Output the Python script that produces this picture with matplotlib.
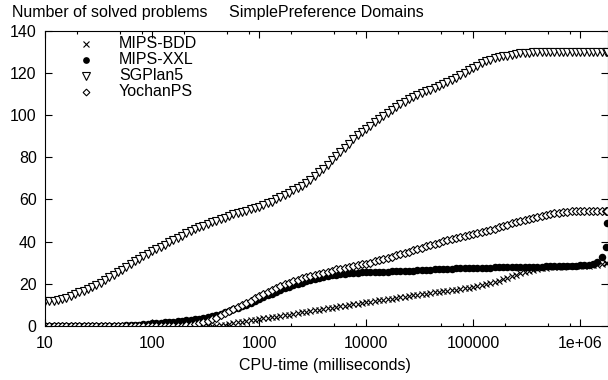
import numpy as np
import matplotlib
matplotlib.use('Agg')
import matplotlib.pyplot as plt
from matplotlib.ticker import FixedLocator, NullFormatter

plt.rcParams['font.family'] = ['Liberation Sans', 'DejaVu Sans']

# CPU time samples, log10(milliseconds); last sample is the 30 min limit
log_time = [
    1.00, 1.04, 1.08, 1.12, 1.16, 1.20, 1.24, 1.28, 1.32, 1.36, 1.40, 1.44, 1.48,
    1.52, 1.56, 1.60, 1.64, 1.68, 1.72, 1.76, 1.80, 1.84, 1.88, 1.92, 1.96,
    2.00, 2.04, 2.08, 2.12, 2.16, 2.20, 2.24, 2.28, 2.32, 2.36, 2.40, 2.44, 2.48,
    2.52, 2.56, 2.60, 2.64, 2.68, 2.72, 2.76, 2.80, 2.84, 2.88, 2.92, 2.96,
    3.00, 3.04, 3.08, 3.12, 3.16, 3.20, 3.24, 3.28, 3.32, 3.36, 3.40, 3.44, 3.48,
    3.52, 3.56, 3.60, 3.64, 3.68, 3.72, 3.76, 3.80, 3.84, 3.88, 3.92, 3.96,
    4.00, 4.04, 4.08, 4.12, 4.16, 4.20, 4.24, 4.28, 4.32, 4.36, 4.40, 4.44, 4.48,
    4.52, 4.56, 4.60, 4.64, 4.68, 4.72, 4.76, 4.80, 4.84, 4.88, 4.92, 4.96,
    5.00, 5.04, 5.08, 5.12, 5.16, 5.20, 5.24, 5.28, 5.32, 5.36, 5.40, 5.44, 5.48,
    5.52, 5.56, 5.60, 5.64, 5.68, 5.72, 5.76, 5.80, 5.84, 5.88, 5.92, 5.96,
    6.00, 6.04, 6.08, 6.12, 6.16, 6.20, 6.24, 6.255,
]

# number of solved problems at each sample
mips_bdd = [
    0, 0, 0, 0, 0, 0, 0, 0, 0, 0, 0, 0, 0, 0, 0, 0, 0, 0, 0, 0, 0, 0, 0, 0, 0,
    0, 0, 0, 0, 0, 0, 0, 0, 0, 0, 0, 0, 0, 0, 0,
    0.2, 0.4, 0.7, 1.0, 1.4, 1.8, 2.1, 2.4, 2.7, 3.0,
    3.3, 3.6, 3.9, 4.2, 4.5, 4.8, 5.1, 5.4, 5.8, 6.1, 6.5, 6.8, 7.1,
    7.5, 7.8, 8.1, 8.4, 8.7, 9.0, 9.4, 9.7, 10.0, 10.3, 10.6, 10.9,
    11.2, 11.5, 11.8, 12.1, 12.4, 12.7, 13.0, 13.3, 13.6, 13.9, 14.2, 14.5, 14.8,
    15.1, 15.4, 15.7, 16.0, 16.2, 16.5, 16.8, 17.0, 17.3, 17.6, 17.9, 18.2,
    18.5, 18.9, 19.3, 19.7, 20.2, 20.8, 21.5, 22.2, 22.9, 23.6, 24.3, 24.9, 25.5,
    26.0, 26.5, 27.0, 27.3, 27.6, 27.8, 28.0, 28.1, 28.2, 28.3, 28.3, 28.4,
    28.4, 28.5, 28.6, 28.8, 29.0, 29.3, 29.7, 30.0,
]

mips_xxl = [
    0, 0, 0, 0, 0, 0, 0, 0, 0, 0, 0, 0, 0, 0, 0, 0, 0,
    0.1, 0.2, 0.3, 0.4, 0.5, 0.6, 0.8, 1.0,
    1.2, 1.4, 1.5, 1.7, 1.8, 2.0, 2.2, 2.4, 2.7, 3.0, 3.2, 3.5, 3.8,
    4.2, 4.6, 5.0, 5.7, 6.5, 7.3, 8.0, 8.6, 9.4, 10.1, 11.0, 12.0,
    13.0, 13.8, 14.6, 15.4, 16.2, 17.0, 17.8, 18.6, 19.3, 19.9, 20.5, 21.1, 21.7,
    22.3, 22.8, 23.3, 23.7, 24.0, 24.3, 24.6, 24.8, 25.0, 25.1, 25.2, 25.4,
    25.5, 25.5, 25.6, 25.7, 25.7, 25.8, 25.9, 26.0, 26.1, 26.1, 26.2, 26.3, 26.4,
    26.5, 26.6, 26.7, 26.8, 26.9, 27.0, 27.1, 27.2, 27.3, 27.3, 27.4, 27.4,
    27.5, 27.6, 27.6, 27.7, 27.7, 27.8, 27.8, 27.9, 27.9, 28.0, 28.0, 28.0, 28.1,
    28.1, 28.2, 28.2, 28.2, 28.3, 28.3, 28.4, 28.4, 28.5, 28.5, 28.6, 28.6,
    28.7, 28.8, 29.0, 29.4, 30.2, 32.6, 37.5, 49.0,
]

sgplan5 = [
    12, 12, 12, 12.3, 12.8, 13.3, 14.1, 15.0, 15.9, 16.7, 17.5, 18.5, 19.5,
    20.5, 21.7, 23.0, 24.2, 25.4, 26.7, 28.0, 29.5, 30.7, 31.8, 33.1, 34.3,
    35.5, 36.5, 37.5, 38.5, 39.6, 40.8, 41.8, 42.9, 44.0, 45.0, 46.0, 46.8, 47.6,
    48.4, 49.2, 50.0, 50.7, 51.4, 52.2, 52.9, 53.5, 54.1, 54.7, 55.3, 55.9,
    56.5, 57.3, 58.1, 59.0, 60.0, 61.0, 62.0, 63.2, 64.4, 65.5, 66.5, 68.0, 69.3,
    71.0, 72.8, 74.5, 76.5, 78.5, 80.5, 82.5, 84.5, 86.5, 88.5, 90.5, 92.0,
    93.5, 95.0, 96.7, 98.2, 99.6, 101.0, 102.4, 103.8, 105.1, 106.3, 107.5, 108.5, 109.5,
    110.4, 111.2, 112.0, 112.8, 113.6, 114.5, 115.5, 116.5, 117.7, 118.9, 120.1, 121.3,
    122.5, 123.5, 124.5, 125.4, 126.2, 127.0, 127.4, 127.8, 128.2, 128.6, 129.0, 129.2, 129.4,
    129.6, 129.8, 130, 130, 130, 130, 130, 130, 130, 130, 130, 130,
    130, 130, 130, 130, 130, 130, 130, 130,
]

yochanps = [
    0, 0, 0, 0, 0, 0, 0, 0, 0, 0, 0, 0, 0, 0, 0, 0, 0, 0, 0, 0, 0, 0, 0, 0, 0,
    0, 0, 0, 0, 0, 0, 0, 0,
    0.3, 0.6, 1.0, 1.4, 1.9, 2.5, 3.2, 4.0, 5.0, 6.0, 7.0, 8.0, 9.0, 10.0, 11.0, 12.0, 13.2,
    14.4, 15.4, 16.3, 17.2, 18.1, 19.0, 19.8, 20.6, 21.3, 22.0, 22.6, 23.2, 23.8,
    24.3, 24.8, 25.3, 25.8, 26.3, 26.8, 27.2, 27.6, 28.0, 28.4, 28.8, 29.2,
    29.6, 30.1, 30.6, 31.1, 31.7, 32.3, 32.9, 33.5, 34.1, 34.7, 35.3, 35.9, 36.5,
    37.1, 37.7, 38.3, 38.9, 39.5, 40.1, 40.6, 41.1, 41.6, 42.1, 42.6, 43.1,
    43.6, 44.1, 44.6, 45.1, 45.6, 46.2, 46.8, 47.4, 48.0, 48.6, 49.2, 49.8, 50.4,
    50.9, 51.4, 51.9, 52.3, 52.7, 53.1, 53.4, 53.7, 54.0, 54.2, 54.3, 54.4,
    54.5, 54.5, 54.5, 54.5, 54.5, 54.5, 54.5, 54.5,
]

series = [
    ("MIPS-BDD", mips_bdd, dict(marker='x', ms=5.0, mew=0.8, color='black')),
    ("MIPS-XXL", mips_xxl, dict(marker='o', ms=5.4, mew=0.0, color='black')),
    ("SGPlan5", sgplan5, dict(marker='v', ms=6.0, mew=0.8, mec='black', mfc='white')),
    ("YochanPS", yochanps, dict(marker='D', ms=3.8, mew=0.8, mec='black', mfc='white')),
]

W, H = 608, 380
fig = plt.figure(figsize=(W / 100, H / 100), dpi=100)
ax_l, ax_r, ax_t, ax_b = 45, 607.5, 30.7, 326
ax = fig.add_axes([ax_l / W, 1 - ax_b / H, (ax_r - ax_l) / W, (ax_b - ax_t) / H])

cpu_ms = 10 ** np.array(log_time)
for name, vals, style in series:
    ax.plot(cpu_ms, vals, linestyle='none', clip_on=True, **style)

ax.set_xscale('log')
ax.set_xlim(10, 1.8e6)
ax.set_ylim(0, 140)

ax.xaxis.set_major_locator(FixedLocator([10, 100, 1000, 1e4, 1e5, 1e6]))
ax.set_xticklabels(['10', '100', '1000', '10000', '100000', '1e+06'])
minor = [m * 10 ** k for k in range(1, 7) for m in (2, 5, 8)]
ax.xaxis.set_minor_locator(FixedLocator(minor))
ax.xaxis.set_minor_formatter(NullFormatter())
ax.set_yticks(range(0, 141, 20))

ax.tick_params(which='both', direction='in', top=True, right=True,
               labelsize=11.5, width=0.8, colors='black')
ax.tick_params(which='major', length=5, pad=7)
ax.tick_params(which='minor', length=2.5)
ax.tick_params(axis='y', pad=6)
for sp in ax.spines.values():
    sp.set_linewidth(0.8)

fig.text(12 / W, 1 - 16.7 / H, 'Number of solved problems', fontsize=11.5, va='baseline')
fig.text(229 / W, 1 - 16.7 / H, 'SimplePreference Domains', fontsize=11.5, va='baseline')
fig.text(325 / W, 1 - 370 / H, 'CPU-time (milliseconds)', fontsize=11.5,
         ha='center', va='baseline')

# key in the upper left corner
key_style = [dict(s, ms=s['ms'] * 0.9) for _, _, s in series]
for i, (name, vals, style) in enumerate(series):
    y = 1 - (43.5 + 16 * i) / H
    fig.add_artist(plt.Line2D([86 / W], [y], linestyle='none',
                              transform=fig.transFigure, **key_style[i]))
    fig.text(119 / W, y, name, fontsize=11.5, va='center')

fig.savefig('out.png', dpi=100)
